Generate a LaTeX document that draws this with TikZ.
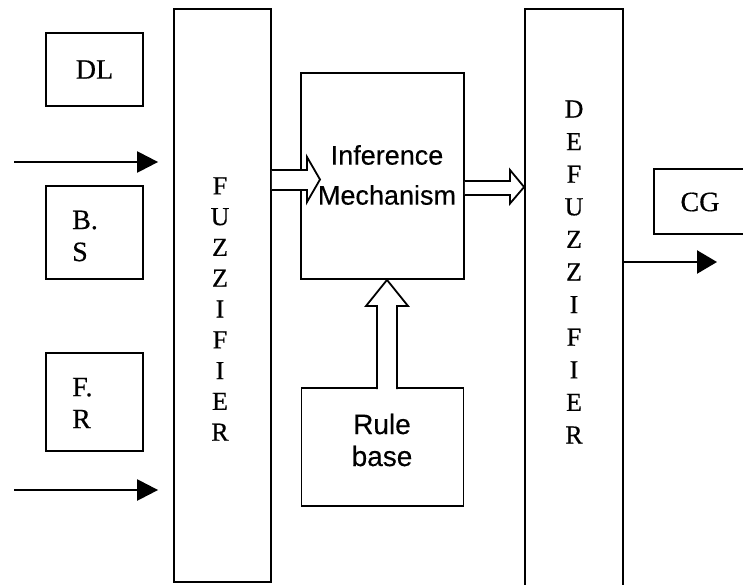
\documentclass[tikz,border=0pt]{standalone}
\usepackage{fontspec}
\setmainfont[FakeBold=0.5]{Liberation Serif}
\newfontfamily\sansf[FakeBold=0.3]{Liberation Sans}
\usetikzlibrary{arrows.meta,calc}
\begin{document}
\begin{tikzpicture}[x=1pt,y=-1pt,
  box/.style={draw=black, line width=1.8pt, inner sep=0pt, fill=white},
  serifl/.style={font={\fontsize{28}{32}\selectfont}},
  vlet/.style={align=center, inner sep=0pt},
  sansl/.style={align=center, inner sep=0pt},
  inarrow/.style={line width=2.4pt, -{Triangle[length=21pt,width=21pt]}},
  hollow/.style={draw=black, line width=1.8pt, fill=white, line join=miter}]
\useasboundingbox (0,0) rectangle (743,584);
\fill[white] (0,0) rectangle (743,584);
\clip (0,0) rectangle (743,584);

% left small boxes
\node[box, serifl, minimum width=97pt, minimum height=73pt] (dl) at (94.5,69.5) {DL};
\node[box, minimum width=97pt, minimum height=93pt] (bs) at (94.5,232.5) {};
\node[serifl, align=left, anchor=west, inner sep=0pt] (bsl) at (72,236) {B.\\S};
\node[box, minimum width=97pt, minimum height=98pt] (fr) at (94.5,402) {};
\node[serifl, align=left, anchor=west, inner sep=0pt] (frl) at (72,403) {F.\\R};

% fuzzifier
\node[box, minimum width=97pt, minimum height=573pt] (fuzz) at (222.5,295.5) {};
\node[vlet, font={\fontsize{26}{30.8}\selectfont}] (fuzzl) at (220,309) {F\\U\\Z\\Z\\I\\F\\I\\E\\R};

% inference mechanism
\node[box, minimum width=163pt, minimum height=206pt] (inf) at (382.5,176) {};
\node[sansl, font={\sansf\fontsize{27}{40}\selectfont}] (infl) at (387,175) {Inference\\Mechanism};

% rule base
\node[box, minimum width=162pt, minimum height=118pt] (rule) at (382.5,447) {};
\node[sansl, font={\sansf\fontsize{28}{32}\selectfont}] (rulel) at (382,440) {Rule\\base};

% defuzzifier
\node[box, minimum width=98pt, minimum height=600pt] (defuzz) at (574,309) {};
\node[vlet, font={\fontsize{26}{32.6}\selectfont}] (defl) at (574,272) {D\\E\\F\\U\\Z\\Z\\I\\F\\I\\E\\R};

% CG box (right edge outside the picture)
\node[box, minimum width=120pt, minimum height=65pt, anchor=west] (cg) at (653,201.5) {};
\node[serifl, inner sep=0pt] (cgl) at (700,202) {CG};

% input arrows
\coordinate (in1) at (14,162);
\coordinate (in2) at (14,490);
\draw[inarrow] (in1) -- ([xshift=-15pt]fuzz.west |- in1);
\draw[inarrow] (in2) -- ([xshift=-15pt]fuzz.west |- in2);

% output arrow
\coordinate (out) at (717,262);
\draw[line width=2.4pt, -{Triangle[length=20pt,width=23pt]}] (defuzz.east |- out) -- (out);

% hollow arrow fuzzifier -> inference
\draw[hollow] (fuzz.east |- 0,170) -- (307,170) -- (307,157) -- (320,179.5) -- (307,202) -- (307,190) -- (fuzz.east |- 0,190);
% hollow arrow inference -> defuzzifier
\draw[hollow] (inf.east |- 0,181) -- (510,181) -- (510,170) -- (defuzz.west |- 0,187) -- (510,203.5) -- (510,195) -- (inf.east |- 0,195);
% hollow arrow rule base -> inference
\draw[hollow] (377,389) -- (377,306) -- (366,306) -- (inf.south -| 387,0) -- (408,306) -- (397,306) -- (397,389);
\end{tikzpicture}
\end{document}
